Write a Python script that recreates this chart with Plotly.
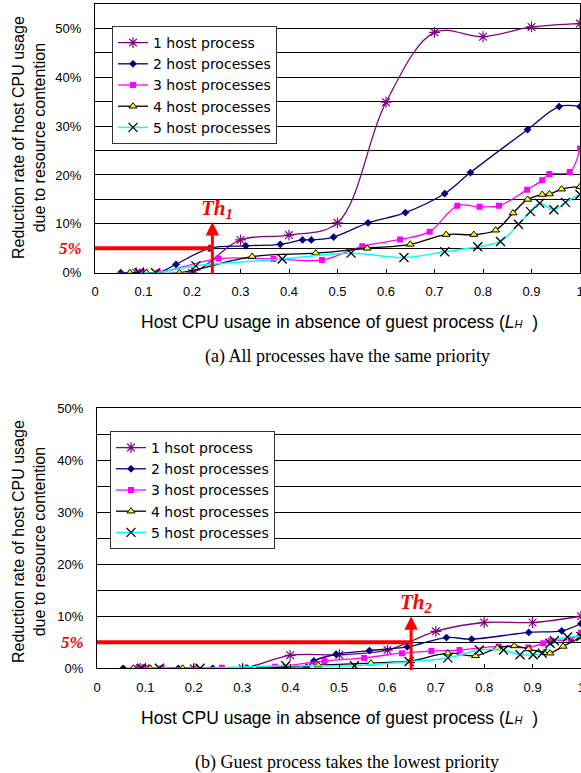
import plotly.graph_objects as go

# ---------------- data ----------------
# (a) All processes have the same priority
a1_x = [0.085, 0.10, 0.20, 0.30, 0.40, 0.50, 0.60, 0.70, 0.80, 0.90, 1.00]
a1_y = [0, 0, 0, 6.7, 7.7, 10.2, 34.9, 49.2, 48.3, 50.3, 51.0]
a2_x = [0.053, 0.10, 0.13, 0.167, 0.236, 0.311, 0.382, 0.428, 0.446, 0.492, 0.563, 0.64, 0.721, 0.774, 0.892, 0.957, 1.0]
a2_y = [0, 0, 0, 1.7, 5.0, 5.5, 5.8, 6.7, 6.7, 7.3, 10.2, 12.3, 16.2, 20.5, 29.3, 34.0, 34.0]
a3_x = [0.09, 0.10, 0.13, 0.255, 0.368, 0.468, 0.551, 0.629, 0.69, 0.747, 0.793, 0.833, 0.891, 0.922, 0.937, 0.979, 1.0]
a3_y = [0, 0, 0, 2.9, 2.8, 2.6, 5.4, 6.8, 8.4, 13.7, 13.5, 13.7, 17.0, 18.9, 20.2, 20.6, 25.4]
a4_x = [0.072, 0.106, 0.174, 0.324, 0.455, 0.561, 0.65, 0.724, 0.781, 0.826, 0.862, 0.892, 0.922, 0.937, 0.962, 1.0]
a4_y = [0, 0, 0, 3.3, 4.0, 5.0, 5.8, 7.8, 7.8, 8.7, 12.2, 15.0, 16.0, 16.1, 17.1, 17.6]
a5_x = [0.091, 0.125, 0.208, 0.386, 0.528, 0.637, 0.721, 0.789, 0.836, 0.873, 0.898, 0.917, 0.946, 0.97, 1.0]
a5_y = [0, 0, 1.4, 2.8, 4.0, 3.1, 4.3, 5.3, 6.4, 9.9, 12.5, 14.2, 12.9, 14.4, 16.0]

# (b) Guest process takes the lowest priority
b1_x = [0.089, 0.10, 0.20, 0.301, 0.399, 0.501, 0.60, 0.70, 0.80, 0.90, 1.0]
b1_y = [0, 0, 0, 0, 2.5, 2.6, 3.5, 7.1, 8.8, 8.8, 10.0]
b2_x = [0.054, 0.096, 0.168, 0.239, 0.311, 0.385, 0.433, 0.448, 0.494, 0.563, 0.641, 0.722, 0.774, 0.892, 0.96, 1.0]
b2_y = [0, 0, 0, 0, 0, 0.1, 0.2, 1.4, 2.7, 3.4, 4.1, 5.9, 5.6, 6.9, 7.2, 8.6]
b3_x = [0.085, 0.10, 0.134, 0.258, 0.368, 0.47, 0.552, 0.63, 0.691, 0.749, 0.83, 0.891, 0.922, 0.938, 0.979, 1.0]
b3_y = [0, 0, 0, 0.1, 0.3, 1.4, 2.0, 2.9, 3.3, 3.5, 4.2, 4.0, 4.8, 5.3, 5.6, 6.9]
b4_x = [0.075, 0.11, 0.177, 0.326, 0.457, 0.566, 0.648, 0.725, 0.782, 0.827, 0.862, 0.892, 0.924, 0.936, 0.963, 1.0]
b4_y = [0, 0, 0, 0, 0.6, 1.0, 1.4, 2.9, 2.4, 3.9, 4.3, 3.7, 3.0, 2.9, 4.2, 6.0]
b5_x = [0.092, 0.129, 0.213, 0.39, 0.532, 0.645, 0.725, 0.79, 0.84, 0.874, 0.901, 0.92, 0.936, 0.945, 0.972, 1.0]
b5_y = [0, 0, 0, 0.5, 0.5, 1.3, 2.0, 3.5, 3.5, 2.6, 2.6, 2.9, 4.8, 5.3, 6.0, 6.1]

names_a = ["1 host process", "2 host processes", "3 host processes", "4 host processes", "5 host processes"]
names_b = ["1 hsot process", "2 host processes", "3 host processes", "4 host processes", "5 host processes"]

limit_pct = 5          # 5% limit line
th1, th1_top = 0.242, 10.4
th2, th2_top = 0.649, 10.0

x_ticks = [0, 0.1, 0.2, 0.3, 0.4, 0.5, 0.6, 0.7, 0.8, 0.9, 1.0]
x_ticktext = ["0", "0.1", "0.2", "0.3", "0.4", "0.5", "0.6", "0.7", "0.8", "0.9", "1"]
y_ticks_a = [0, 5, 10, 15, 20, 25, 30, 35, 40, 45, 50]
y_ticks_b = [0, 5, 10, 15, 20, 25, 30, 35, 40, 45, 50]
y_ticktext = ["0%", "", "10%", "", "20%", "", "30%", "", "40%", "", "50%"]

# ---------------- styles ----------------
styles = [
    dict(line=dict(color="#800080", width=1.3),
         marker=dict(symbol="asterisk-open", size=9, color="#800080", line=dict(color="#800080", width=1.2))),
    dict(line=dict(color="#000080", width=1.3),
         marker=dict(symbol="diamond", size=6, color="#000080", line=dict(width=0))),
    dict(line=dict(color="#FF00FF", width=1.3),
         marker=dict(symbol="square", size=6, color="#FF00FF", line=dict(width=0))),
    dict(line=dict(color="#000000", width=1.3),
         marker=dict(symbol="triangle-up", size=7, color="#FFFF00", line=dict(color="#000000", width=1))),
    dict(line=dict(color="#00FFFF", width=1.5),
         marker=dict(symbol="x-thin-open", size=9, color="#000000", line=dict(color="#000000", width=1.3))),
]

fig = go.Figure()

series_a = [(a1_x, a1_y), (a2_x, a2_y), (a3_x, a3_y), (a4_x, a4_y), (a5_x, a5_y)]
series_b = [(b1_x, b1_y), (b2_x, b2_y), (b3_x, b3_y), (b4_x, b4_y), (b5_x, b5_y)]

for i, (xs, ys) in enumerate(series_a):
    fig.add_trace(go.Scatter(x=xs, y=ys, name=names_a[i], mode="lines+markers",
                             line=dict(shape="spline", smoothing=1, **styles[i]["line"]),
                             marker=styles[i]["marker"], xaxis="x", yaxis="y", legend="legend"))
for i, (xs, ys) in enumerate(series_b):
    fig.add_trace(go.Scatter(x=xs, y=ys, name=names_b[i], mode="lines+markers",
                             line=dict(shape="spline", smoothing=1, **styles[i]["line"]),
                             marker=styles[i]["marker"], xaxis="x2", yaxis="y2", legend="legend2"))

W, H = 581, 773
sans = "Liberation Sans, Arial, sans-serif"
serif = "Liberation Serif, Times New Roman, serif"

def xaxis(domain, anchor):
    return dict(domain=domain, anchor=anchor, range=[0, 1], tickvals=x_ticks, ticktext=x_ticktext,
                ticks="inside", ticklen=4, tickcolor="black", showgrid=False, zeroline=False,
                showline=True, linecolor="black", linewidth=1, mirror=True,
                tickfont=dict(family=sans, size=13, color="black"), ticklabelstandoff=7,
                ticklabeloverflow="allow", automargin=False, fixedrange=True)

def yaxis(domain, anchor, rng, vals):
    return dict(domain=domain, anchor=anchor, range=rng, tickvals=vals, ticktext=y_ticktext,
                ticks="", showgrid=True, gridcolor="black", gridwidth=1, zeroline=False,
                showline=True, linecolor="black", linewidth=1, mirror=True,
                tickfont=dict(family=sans, size=13, color="black"), ticklabelstandoff=10,
                automargin=False, fixedrange=True)

legend_font = dict(family="DejaVu Sans, sans-serif", size=14, color="black")
fig.update_layout(
    width=W, height=H, autosize=False,
    margin=dict(l=0, r=0, t=0, b=0),
    paper_bgcolor="white", plot_bgcolor="white",
    xaxis=xaxis([95 / W, 580 / W], "y"),
    yaxis=yaxis([1 - 272.7 / H, 1 - 4 / H], "x", [0, 55], y_ticks_a),
    xaxis2=xaxis([97 / W, 1.0], "y2"),
    yaxis2=yaxis([1 - 668.3 / H, 1 - 408 / H], "x2", [0, 50], y_ticks_b),
    legend=dict(x=112 / W, y=1 - 26 / H, xanchor="left", yanchor="top",
                bgcolor="white", bordercolor="#333333", borderwidth=1, font=legend_font),
    legend2=dict(x=110 / W, y=1 - 431 / H, xanchor="left", yanchor="top",
                 bgcolor="white", bordercolor="#333333", borderwidth=1, font=legend_font),
)

# 5% limit lines
for xr, yr, th in [("x", "y", th1), ("x2", "y2", th2)]:
    fig.add_shape(type="line", xref=xr, yref=yr, x0=0, x1=th, y0=limit_pct, y1=limit_pct,
                  line=dict(color="#FF0000", width=4), layer="above")

# threshold arrows and labels
for xr, yr, th, top, lab in [("x", "y", th1, th1_top, "1"), ("x2", "y2", th2, th2_top, "2")]:
    fig.add_annotation(x=th, y=top, ax=th, ay=-0.6, xref=xr, yref=yr, axref=xr, ayref=yr,
                       text="", showarrow=True, arrowhead=2, arrowsize=0.9, arrowwidth=3,
                       arrowcolor="#FF0000")
    fig.add_annotation(x=th + 0.01, y=top, xref=xr, yref=yr, yanchor="bottom", xanchor="center",
                       text="<b><i>Th<sub>" + lab + "</sub></i></b>", showarrow=False,
                       font=dict(family=serif, size=21, color="#FF0000"), yshift=-2)
    fig.add_annotation(x=0, y=limit_pct, xref=xr + " domain", yref=yr, xanchor="right",
                       xshift=-11, text="<b><i>5%</i></b>", showarrow=False,
                       font=dict(family=serif, size=17, color="#FF0000"))

ytitle = "Reduction rate of host CPU usage<br>due to resource contention"
xtitle = "Host CPU usage in absence of guest process (<i>L</i><span style='font-size:11px'><i>H</i></span>  )"
for yc in [138, 542]:
    fig.add_annotation(x=29 / W, y=1 - yc / H, xref="paper", yref="paper", text=ytitle,
                       textangle=-90, showarrow=False, xanchor="center", yanchor="middle",
                       font=dict(family=sans, size=16, color="black"))
for yc in [322, 718]:
    fig.add_annotation(x=339 / W, y=1 - yc / H, xref="paper", yref="paper", text=xtitle,
                       showarrow=False, xanchor="center", yanchor="middle",
                       font=dict(family=sans, size=17.5, color="black"))
for yc, cap in [(357, "(a) All processes have the same priority"),
                (762, "(b) Guest process takes the lowest priority")]:
    fig.add_annotation(x=347 / W, y=1 - yc / H, xref="paper", yref="paper", text=cap,
                       showarrow=False, xanchor="center", yanchor="middle",
                       font=dict(family=serif, size=18, color="black"))

fig.write_html("out.html", config={"displayModeBar": False},
               post_script="document.body.style.margin='0';document.body.style.overflow='hidden';")
